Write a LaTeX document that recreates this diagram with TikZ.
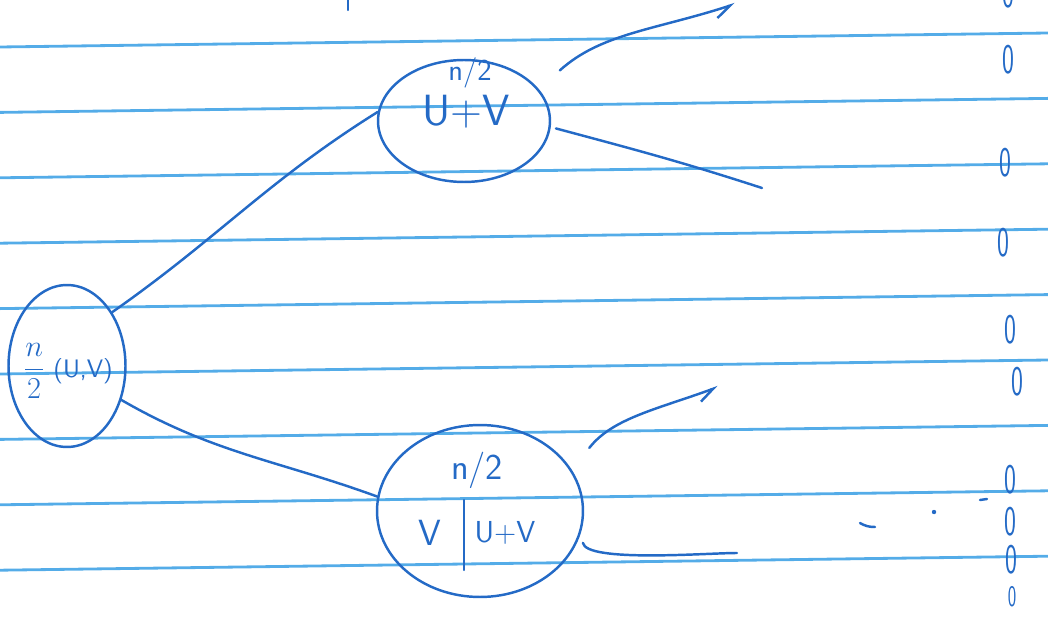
\documentclass[tikz,border=0pt]{standalone}
\usepackage{amsmath}
\usepackage{xcolor}
\usepackage{tikz}
\usetikzlibrary{positioning,arrows.meta,shapes.geometric}
\definecolor{ink}{RGB}{36,106,198}
\definecolor{ruleblue}{RGB}{84,172,232}

\begin{document}
\begin{tikzpicture}[x=0.02cm,y=0.02cm,font=\sffamily\Large,
      rule/.style={ruleblue,line width=1.6pt},
      pen/.style={ink,line width=1.4pt,line cap=round},
      cell/.style={draw=ink,ellipse,line width=1.4pt,inner sep=0pt},
      lab/.style={text=ink,inner sep=1pt},
      zeronum/.style={text=ink,font=\sffamily\fontsize{24}{24}\selectfont,xscale=0.6,inner sep=0pt},
      arr/.style={pen,-{Straight Barb[harpoon,swap,length=9pt,width=9pt]}}]
    \useasboundingbox (0,0) rectangle (1048,616);
    \clip (0,0) rectangle (1048,616);
    \foreach \k in {0,...,8}
      \draw[rule] (0,{569-65.4*\k}) -- (1048,{583-65.4*\k});
    \node[cell,minimum width=2.34cm,minimum height=3.24cm] (lft) at (67,250) {};
    \node[cell,minimum width=3.44cm,minimum height=2.44cm] (upr) at (464,495) {};
    \node[cell,minimum width=4.12cm,minimum height=3.44cm] (lwr) at (480,105) {};
    \node[lab] (lftt) at (68,245) {{\LARGE$\dfrac{n}{2}$} (U,V)};
    \node[lab,font=\sffamily\LARGE] (uprn) at (470,543) {n/2};
    \node[lab,font=\sffamily\Huge] (uprt) at (466,504) {U+V};
    \node[lab,font=\sffamily\huge] (lwrn) at (477,146) {n/2};
    \node[lab,font=\sffamily\huge] (lwrv) at (430,83) {V};
    \node[lab,font=\sffamily\LARGE] (lwrt) at (505,83) {U+V};
    \draw[pen] (464,116) -- (464,46);
    \foreach \x/\y [count=\i] in {1008/622,1008/556,1005/453,1003/373,1010/286,1017/234,1010/136,1010/94,1011/56}
      \node[zeronum] (zr\i) at (\x,\y) {0};
    \node[zeronum,font=\sffamily\fontsize{17}{17}\selectfont] (zr10) at (1012,19) {0};
    \draw[pen] (860,93) to[out=-30,in=180] (875,89);
    \fill[ink] (934,104) circle (2.2);
    \draw[pen] (980,116) -- (987,117);
    \draw[pen] (348,616) -- (348,606);
    \coordinate (u1) at (735,612);
    \coordinate (u2) at (762,428);
    \coordinate (l1) at (718,229);
    \coordinate (l2) at (737,63);
    \draw[pen] (lft.50) to[out=35,in=212] (upr.174);
    \draw[pen] (lft.-32) to[out=-30,in=160] (lwr.172);
    \draw[arr,shorten <=16pt] (upr.23) to[out=42,in=198] (u1);
    \draw[pen,shorten <=3pt] (upr.-4) to[out=-15,in=162] (u2);
    \draw[arr,shorten <=16pt] (lwr.24) to[out=52,in=200] (l1);
    \draw[pen,shorten <=6pt] (lwr.-12) to[out=-80,in=180,looseness=0.5] (l2);
  \end{tikzpicture}
\end{document}
